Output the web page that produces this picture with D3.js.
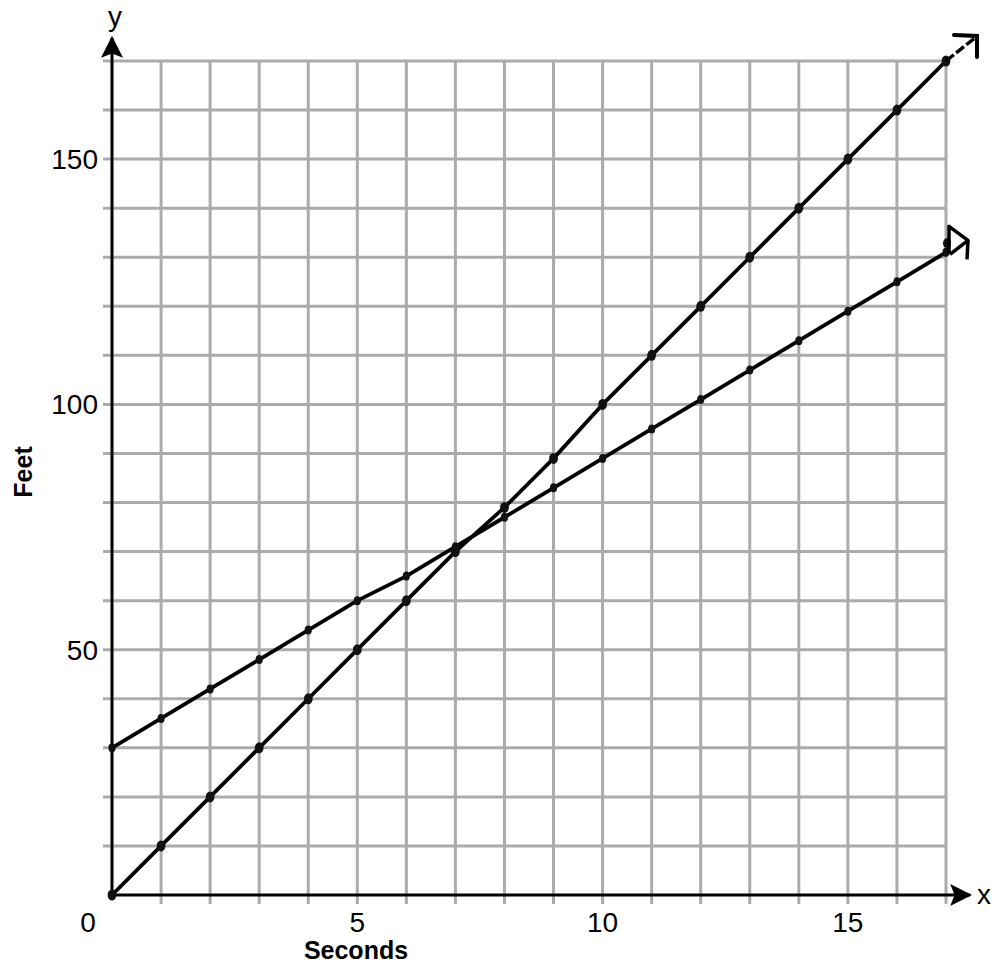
<!DOCTYPE html>
<html>
<head>
<meta charset="utf-8">
<script src="https://cdn.jsdelivr.net/npm/d3@7"></script>
<style>
  body { margin: 0; background: #fff; }
  text { font-family: Arial, "Liberation Sans", sans-serif; }
</style>
</head>
<body>
<svg id="chart" width="992" height="966"></svg>
<script>
// data
const seconds = d3.range(0, 18);           // 0..17
const feetFast = [0, 10, 20, 30, 40, 50, 60, 70, 79, 89, 100, 110, 120, 130, 140, 150, 160, 170];
const feetSlow = [30, 36, 42, 48, 54, 60, 65, 71, 77, 83, 89, 95, 101, 107, 113, 119, 125, 131];
const xTickLabels = [0, 5, 10, 15];
const yTickLabels = [50, 100, 150];

const svg = d3.select('#chart');
const g = svg.append('g');

// scales
const x = d3.scaleLinear().domain([0, 17]).range([112, 946]);
const y = d3.scaleLinear().domain([0, 170]).range([895, 61]);

// grid
const grid = g.append('g').attr('stroke', '#ababab').attr('stroke-width', 3);
d3.range(1, 18).forEach(d => {
  grid.append('line')
    .attr('x1', x(d)).attr('x2', x(d))
    .attr('y1', y(170)).attr('y2', y(0) + 9);
});
d3.range(10, 171, 10).forEach(d => {
  grid.append('line')
    .attr('x1', x(0) - 9).attr('x2', x(17))
    .attr('y1', y(d)).attr('y2', y(d));
});

// axes with arrows
svg.append('defs').append('marker')
  .attr('id', 'arr')
  .attr('viewBox', '0 0 10 10')
  .attr('refX', 9).attr('refY', 5)
  .attr('markerWidth', 22).attr('markerHeight', 22)
  .attr('markerUnits', 'userSpaceOnUse')
  .attr('orient', 'auto')
  .append('path').attr('d', 'M0,0 L10,5 L0,10 L2,5 Z').attr('fill', '#000');

g.append('line')
  .attr('x1', x(0)).attr('x2', x(0))
  .attr('y1', y(0)).attr('y2', 38)
  .attr('stroke', '#000').attr('stroke-width', 3)
  .attr('marker-end', 'url(#arr)');
g.append('line')
  .attr('x1', x(0)).attr('x2', 970)
  .attr('y1', y(0)).attr('y2', y(0))
  .attr('stroke', '#000').attr('stroke-width', 3)
  .attr('marker-end', 'url(#arr)');

g.append('text').attr('x', 115).attr('y', 26).attr('text-anchor', 'middle')
  .attr('font-size', 28).text('y');
g.append('text').attr('x', 984).attr('y', 904).attr('text-anchor', 'middle')
  .attr('font-size', 28).text('x');

// tick labels
g.selectAll('.xl').data(xTickLabels).enter().append('text')
  .attr('x', d => d === 0 ? x(d) - 24 : x(d))
  .attr('y', 932)
  .attr('text-anchor', 'middle')
  .attr('font-size', 28)
  .text(d => d);
g.selectAll('.yl').data(yTickLabels).enter().append('text')
  .attr('x', 98)
  .attr('y', d => y(d) + 10)
  .attr('text-anchor', 'end')
  .attr('font-size', 28)
  .text(d => d);

// axis titles
g.append('text').attr('x', 356).attr('y', 959).attr('text-anchor', 'middle')
  .attr('font-size', 25).attr('font-weight', 'bold').text('Seconds');
g.append('text').attr('transform', 'translate(32,472) rotate(-90)')
  .attr('text-anchor', 'middle')
  .attr('font-size', 25).attr('font-weight', 'bold').text('Feet');

// hand drawn lines
const line = d3.line().x(d => x(d[0])).y(d => y(d[1]));
function drawSeries(vals, dotR) {
  const pts = seconds.map((s, i) => [s, vals[i]]);
  g.append('path')
    .attr('d', line(pts))
    .attr('fill', 'none')
    .attr('stroke', '#000')
    .attr('stroke-width', 3.8)
    .attr('stroke-linecap', 'round')
    .attr('stroke-linejoin', 'round');
  g.selectAll(null).data(pts).enter().append('ellipse')
    .attr('cx', d => x(d[0]))
    .attr('cy', d => y(d[1]))
    .attr('rx', dotR * 0.8)
    .attr('ry', dotR)
    .attr('fill', '#111');
}
drawSeries(feetFast, 5.5);
drawSeries(feetSlow, 4.5);

// hand drawn arrow tips at line ends
const endFast = [x(17), y(feetFast[17])];
g.append('path')
  .attr('d', `M${endFast[0]},${endFast[1]} L${endFast[0] + 30},${endFast[1] - 24}`)
  .attr('stroke', '#000').attr('stroke-width', 3.5).attr('stroke-dasharray', '10,3').attr('fill', 'none');
g.append('path')
  .attr('d', `M${endFast[0] + 8},${endFast[1] - 26} L${endFast[0] + 31},${endFast[1] - 25} L${endFast[0] + 31},${endFast[1] - 4}`)
  .attr('stroke', '#000').attr('stroke-width', 4).attr('fill', 'none').attr('stroke-linecap', 'round');

const endSlow = [x(17), y(feetSlow[17])];
g.append('ellipse').attr('cx', endSlow[0] + 1).attr('cy', endSlow[1] - 9).attr('rx', 4).attr('ry', 5).attr('fill', '#111');
g.append('path')
  .attr('d', `M${endSlow[0] + 3},${endSlow[1] + 2} L${endSlow[0] + 3},${endSlow[1] - 26} L${endSlow[0] + 22},${endSlow[1] - 12} L${endSlow[0] + 4},${endSlow[1] + 2}`)
  .attr('stroke', '#000').attr('stroke-width', 3.5).attr('fill', 'none').attr('stroke-linejoin', 'round');
g.append('path')
  .attr('d', `M${endSlow[0] + 22},${endSlow[1] - 12} L${endSlow[0] + 21},${endSlow[1] + 7}`)
  .attr('stroke', '#000').attr('stroke-width', 3.5).attr('fill', 'none');
</script>
</body>
</html>
